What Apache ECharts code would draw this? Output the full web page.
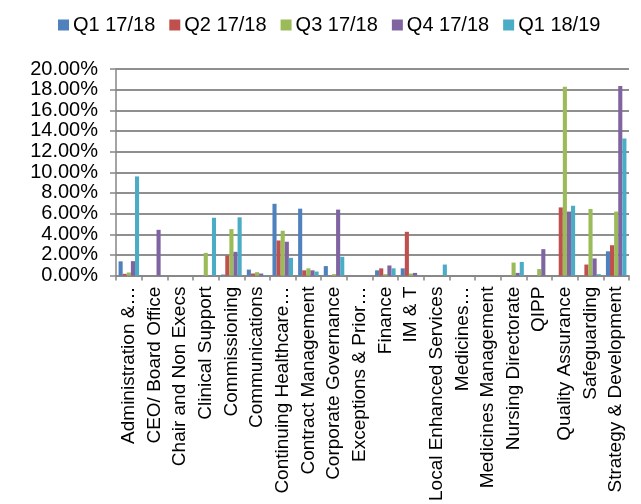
<!DOCTYPE html>
<html>
<head>
<meta charset="utf-8">
<script src="https://cdn.jsdelivr.net/npm/echarts@6/dist/echarts.min.js"></script>
<style>
  html, body { margin: 0; padding: 0; background: #fff; }
  #chart { width: 641px; height: 504px; }
</style>
</head>
<body>
<div id="chart"></div>
<script>
// Share of activity by department per quarter (percent)
const categories = [
  'Administration &\u2026', 'CEO/ Board Office', 'Chair and Non Execs', 'Clinical Support',
  'Commissioning', 'Communications', 'Continuing Healthcare\u2026', 'Contract Management',
  'Corporate Governance', 'Exceptions & Prior\u2026', 'Finance', 'IM & T',
  'Local Enhanced Services', 'Medicines\u2026', 'Medicines Management', 'Nursing Directorate',
  'QIPP', 'Quality Assurance', 'Safeguarding', 'Strategy & Development'
];

const seriesNames = ['Q1 17/18', 'Q2 17/18', 'Q3 17/18', 'Q4 17/18', 'Q1 18/19'];

const q1_1718 = [1.38, 0, 0, 0, 0.1, 0.58, 6.95, 6.48, 0.92, 0, 0.51, 0.70, 0, 0, 0, 0, 0, 0, 0, 2.35];
const q2_1718 = [0.17, 0, 0, 0, 1.94, 0.2, 3.40, 0.51, 0, 0, 0.70, 4.24, 0, 0, 0, 0, 0, 6.60, 1.07, 2.94];
const q3_1718 = [0.30, 0, 0, 2.20, 4.50, 0.33, 4.34, 0.70, 0.14, 0, 0.14, 0.20, 0, 0, 0, 1.26, 0.63, 18.27, 6.45, 6.20];
const q4_1718 = [1.40, 4.43, 0, 0, 2.30, 0.2, 3.28, 0.51, 6.39, 0, 0.98, 0.26, 0, 0, 0, 0.26, 2.56, 6.20, 1.66, 18.36];
const q1_1819 = [9.60, 0, 0, 5.60, 5.64, 0.05, 1.72, 0.39, 1.82, 0, 0.70, 0, 1.07, 0, 0, 1.32, 0, 6.76, 0.14, 13.27];

const yTicks = { min: 0, max: 20, interval: 2 };

const colors = ['#4F81BD', '#C0504D', '#9BBB59', '#8064A2', '#4BACC6'];
const seriesData = [q1_1718, q2_1718, q3_1718, q4_1718, q1_1819];

const chart = echarts.init(document.getElementById('chart'), null, { renderer: 'canvas' });
const font = '"Liberation Sans", Arial, sans-serif';

chart.setOption({
  animation: false,
  color: colors,
  textStyle: { fontFamily: font },
  legend: {
    left: 53,
    top: 10,
    itemWidth: 11,
    itemHeight: 11,
    itemGap: 14,
    icon: 'rect',
    textStyle: { fontSize: 20, color: '#000', fontFamily: font, padding: [0, 0, 0, -1] },
    data: seriesNames
  },
  grid: { left: 116, right: 12, top: 69, bottom: 220.5, containLabel: false },
  xAxis: {
    type: 'category',
    data: categories,
    axisLine: { lineStyle: { color: '#868686', width: 1.5 } },
    axisTick: { show: true, length: 5, lineStyle: { color: '#868686', width: 1.5 } },
    axisLabel: { rotate: 90, interval: 0, fontSize: 19, color: '#000', fontFamily: font, margin: 11 }
  },
  yAxis: {
    type: 'value',
    min: yTicks.min,
    max: yTicks.max,
    interval: yTicks.interval,
    axisLine: { show: true, lineStyle: { color: '#868686', width: 1.5 } },
    axisTick: { show: true, inside: false, length: 6, lineStyle: { color: '#868686', width: 1.5 } },
    splitLine: { lineStyle: { color: '#8f8f8f', width: 2 } },
    axisLabel: {
      fontSize: 20, color: '#000', fontFamily: font, margin: 18,
      formatter: v => v.toFixed(2) + '%'
    }
  },
  series: seriesData.map((d, i) => ({
    name: seriesNames[i],
    type: 'bar',
    data: d,
    barGap: '0%',
    barCategoryGap: '20%',
    itemStyle: { color: colors[i] }
  }))
});
</script>
</body>
</html>
